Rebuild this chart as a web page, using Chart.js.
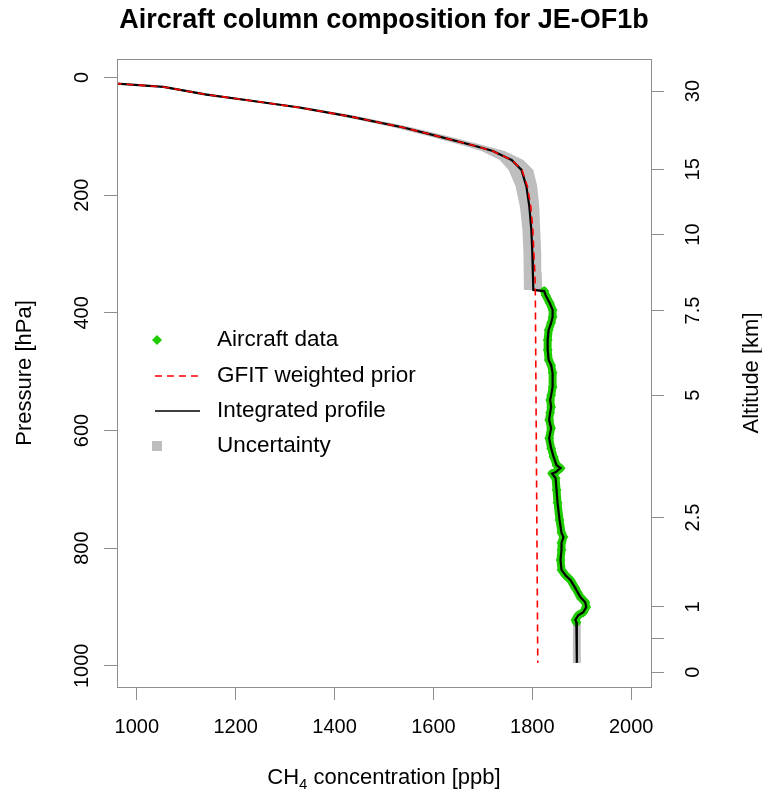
<!DOCTYPE html>
<html>
<head>
<meta charset="utf-8">
<script src="https://cdn.jsdelivr.net/npm/chart.js@4.4.1/dist/chart.umd.min.js"></script>
<style>
  html, body { margin: 0; padding: 0; background: #fff; }
  canvas { display: block; }
</style>
</head>
<body>
<canvas id="profileChart" width="762" height="796"></canvas>
<script>
// values (pressure in hPa, CH4 in ppb)
const topPressure = [10, 16, 29, 39, 51, 66, 85, 100, 116, 125, 140, 157, 185, 220, 259, 298, 330, 361];
const topCH4      = [955, 1054, 1141, 1228, 1329, 1430, 1539, 1610, 1683, 1720, 1758, 1778, 1788, 1794, 1798, 1800, 1801, 1802];

const priorPressure = [10, 16, 29, 39, 51, 66, 85, 100, 116, 125, 140, 157, 185, 220, 259, 298, 330, 361, 995];
const priorCH4      = [955, 1054, 1141, 1228, 1329, 1430, 1539, 1610, 1683, 1720, 1758, 1779, 1790, 1797, 1801, 1803, 1805, 1806, 1811];

const aircraftPressure = [363, 370, 383, 395, 407, 417, 429, 446, 463, 480, 489, 502, 526, 540, 548, 560, 570, 582, 596, 613,
                          630, 645, 659, 664, 671, 673, 681, 701, 723, 752, 774, 781, 791, 803, 820, 837, 846, 854, 868, 883,
                          892, 900, 909, 914, 922, 926];
const aircraftCH4      = [1824, 1827, 1835, 1841, 1841, 1838, 1833, 1831, 1831, 1833, 1838, 1841, 1841, 1838, 1836, 1838, 1836, 1834, 1838, 1834,
                          1838, 1843, 1849, 1857, 1847, 1840, 1847, 1849, 1851, 1855, 1859, 1863, 1859, 1859, 1857, 1859, 1867, 1877, 1887, 1897,
                          1907, 1909, 1903, 1893, 1887, 1889];

const bottomPressure = [926, 995];
const bottomCH4      = [1890, 1890];

// uncertainty envelope
const bandPressure = [10, 16, 29, 39, 51, 66, 85, 100, 116, 125, 140, 157, 185, 220, 259, 298, 330, 361];
const bandLow      = [946, 1043, 1128, 1214, 1314, 1414, 1521, 1591, 1662, 1697, 1734, 1752, 1766, 1775, 1780, 1782, 1783, 1783];
const bandHigh     = [966, 1066, 1155, 1243, 1345, 1447, 1557, 1630, 1705, 1744, 1782, 1802, 1810, 1814, 1816, 1818, 1819, 1820];
const bottomBandPressure = [926, 995];
const bottomBandLow      = [1882, 1882];
const bottomBandHigh     = [1898, 1898];

// axes
const ch4Ticks = [1000, 1200, 1400, 1600, 1800, 2000];
const pressureTicks = [0, 200, 400, 600, 800, 1000];
const altitudeLabels = ['30', '15', '10', '7.5', '5', '2.5', '1', '', '0'];
const altitudePressure = [23, 156, 267, 396, 540, 748, 900, 954, 1011];

const legendLabels = ['Aircraft data', 'GFIT weighted prior', 'Integrated profile', 'Uncertainty'];

const axisGrey = '#8e8e8e';
const green = '#1fcc00';
const band = '#bebebe';
const font = '"Liberation Sans", Arial, Helvetica, sans-serif';

function pts(xs, ys) {
    return xs.map((x, i) => ({ x: x, y: ys[i] }));
}
function envelope(p, lo, hi) {
    const left = p.map((v, i) => ({ x: lo[i], y: v }));
    const right = p.map((v, i) => ({ x: hi[i], y: v })).reverse();
    return left.concat(right);
}

const profileCH4 = topCH4.concat(aircraftCH4, bottomCH4);
const profilePressure = topPressure.concat(aircraftPressure, bottomPressure);

function fixTicks(values) {
    return function(scale) {
        scale.ticks = values.map(v => ({ value: v }));
    };
}

function axisGrid() {
    return {
        drawOnChartArea: false,
        drawTicks: true,
        tickLength: 13,
        color: axisGrey,
        lineWidth: 1
    };
}

// text, box and legend drawn on top of the chart
const decorations = {
    id: 'decorations',
    afterDraw(chart) {
        const ctx = chart.ctx;
        const area = chart.chartArea;
        const xs = chart.scales.x;
        const ys = chart.scales.y;
        const y2 = chart.scales.y2;

        ctx.save();
        ctx.strokeStyle = axisGrey;
        ctx.lineWidth = 1;
        ctx.strokeRect(Math.round(area.left) + 0.5, Math.round(area.top) + 0.5,
            Math.round(area.right - area.left), Math.round(area.bottom - area.top));

        ctx.fillStyle = '#000';
        ctx.textAlign = 'center';
        ctx.textBaseline = 'middle';

        // title
        ctx.font = 'bold 27px ' + font;
        ctx.fillText('Aircraft column composition for JE-OF1b', (area.left + area.right) / 2, 21);

        // x tick labels
        ctx.font = '20px ' + font;
        ch4Ticks.forEach(v => {
            ctx.fillText(String(v), xs.getPixelForValue(v), 727);
        });

        // rotated y tick labels
        pressureTicks.forEach(v => {
            ctx.save();
            ctx.translate(82, ys.getPixelForValue(v));
            ctx.rotate(-Math.PI / 2);
            ctx.fillText(String(v), 0, 0);
            ctx.restore();
        });
        altitudePressure.forEach((p, i) => {
            if (!altitudeLabels[i]) return;
            ctx.save();
            ctx.translate(693, y2.getPixelForValue(p));
            ctx.rotate(-Math.PI / 2);
            ctx.fillText(altitudeLabels[i], 0, 0);
            ctx.restore();
        });

        // axis titles
        ctx.font = '22px ' + font;
        const midY = (area.top + area.bottom) / 2;
        ctx.save();
        ctx.translate(25, midY);
        ctx.rotate(-Math.PI / 2);
        ctx.fillText('Pressure [hPa]', 0, 0);
        ctx.restore();
        ctx.save();
        ctx.translate(752, midY);
        ctx.rotate(-Math.PI / 2);
        ctx.fillText('Altitude [km]', 0, 0);
        ctx.restore();

        // x title with subscript
        const partA = 'CH', partB = '4', partC = ' concentration [ppb]';
        ctx.font = '22px ' + font;
        const wA = ctx.measureText(partA).width;
        const wC = ctx.measureText(partC).width;
        ctx.font = '15px ' + font;
        const wB = ctx.measureText(partB).width;
        let tx = (area.left + area.right) / 2 - (wA + wB + wC) / 2;
        ctx.textAlign = 'left';
        ctx.font = '22px ' + font;
        ctx.fillText(partA, tx, 778);
        ctx.font = '15px ' + font;
        ctx.fillText(partB, tx + wA, 785);
        ctx.font = '22px ' + font;
        ctx.fillText(partC, tx + wA + wB, 778);

        // legend
        const legendY = [340, 376, 411, 446];
        ctx.font = '22.5px ' + font;
        legendLabels.forEach((t, i) => {
            ctx.fillText(t, 217, legendY[i]);
        });
        // diamond
        ctx.fillStyle = green;
        ctx.beginPath();
        ctx.moveTo(157, legendY[0] - 5);
        ctx.lineTo(162, legendY[0]);
        ctx.lineTo(157, legendY[0] + 5);
        ctx.lineTo(152, legendY[0]);
        ctx.closePath();
        ctx.fill();
        // dashed red
        ctx.strokeStyle = '#ff0000';
        ctx.lineWidth = 1.5;
        ctx.setLineDash([7, 5]);
        ctx.beginPath();
        ctx.moveTo(155, legendY[1]);
        ctx.lineTo(200, legendY[1]);
        ctx.stroke();
        ctx.setLineDash([]);
        // black
        ctx.strokeStyle = '#000';
        ctx.lineWidth = 1.5;
        ctx.beginPath();
        ctx.moveTo(155, legendY[2]);
        ctx.lineTo(200, legendY[2]);
        ctx.stroke();
        // grey square
        ctx.fillStyle = band;
        ctx.fillRect(152, legendY[3] - 5, 10, 10);

        ctx.restore();
    }
};

const ctx = document.getElementById('profileChart').getContext('2d');
const profileChart = new Chart(ctx, {
    type: 'scatter',
    data: {
        datasets: [
            {
                label: 'GFIT weighted prior',
                data: pts(priorCH4, priorPressure),
                showLine: true,
                borderColor: '#ff0000',
                borderWidth: 1.6,
                borderDash: [7, 5],
                pointRadius: 0,
                tension: 0,
                order: 0
            },
            {
                label: 'Integrated profile',
                data: pts(profileCH4, profilePressure),
                showLine: true,
                borderColor: '#000000',
                borderWidth: 2.2,
                pointRadius: 0,
                tension: 0,
                order: 1
            },
            {
                label: 'Aircraft data',
                data: pts(aircraftCH4, aircraftPressure),
                showLine: true,
                borderColor: green,
                borderWidth: 8,
                borderJoinStyle: 'round',
                borderCapStyle: 'round',
                pointStyle: 'rectRot',
                pointRadius: 5,
                pointBackgroundColor: green,
                pointBorderWidth: 0,
                tension: 0,
                order: 2
            },
            {
                label: 'Uncertainty',
                data: envelope(bandPressure, bandLow, bandHigh),
                showLine: true,
                borderWidth: 0,
                borderColor: band,
                backgroundColor: band,
                pointRadius: 0,
                fill: 'shape',
                tension: 0,
                order: 3
            },
            {
                label: 'Uncertainty (surface)',
                data: envelope(bottomBandPressure, bottomBandLow, bottomBandHigh),
                showLine: true,
                borderWidth: 0,
                borderColor: band,
                backgroundColor: band,
                pointRadius: 0,
                fill: 'shape',
                tension: 0,
                order: 3
            }
        ]
    },
    options: {
        responsive: false,
        animation: false,
        layout: { padding: { top: 59, left: 0, right: 0, bottom: 0 } },
        plugins: {
            legend: { display: false },
            title: { display: false },
            tooltip: { enabled: false }
        },
        scales: {
            x: {
                type: 'linear',
                position: 'bottom',
                min: 960,
                max: 2040,
                afterBuildTicks: fixTicks(ch4Ticks),
                afterFit: s => { s.height = 109; },
                ticks: { display: false },
                border: { display: false },
                grid: axisGrid()
            },
            y: {
                type: 'linear',
                position: 'left',
                reverse: true,
                min: -31.5,
                max: 1036,
                afterBuildTicks: fixTicks(pressureTicks),
                afterFit: s => { s.width = 117; },
                ticks: { display: false },
                border: { display: false },
                grid: axisGrid()
            },
            y2: {
                type: 'linear',
                position: 'right',
                reverse: true,
                min: -31.5,
                max: 1036,
                afterBuildTicks: fixTicks(altitudePressure),
                afterFit: s => { s.width = 111; },
                ticks: { display: false },
                border: { display: false },
                grid: axisGrid()
            }
        }
    },
    plugins: [decorations]
});
</script>
</body>
</html>
